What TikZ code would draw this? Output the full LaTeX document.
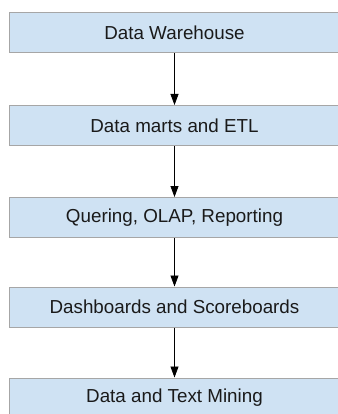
\documentclass[tikz,border=0pt]{standalone}
\usepackage{fontspec}
\setmainfont{Liberation Sans}
\usetikzlibrary{arrows.meta}
\definecolor{boxfill}{HTML}{CFE2F3}
\definecolor{boxline}{HTML}{A6A6A6}
\definecolor{inktext}{HTML}{1A1A1A}
\begin{document}
\begin{tikzpicture}[x=1pt,y=1pt,
  stage/.style={draw=boxline, line width=1pt, fill=boxfill, rectangle,
    minimum width=331pt, minimum height=40pt, inner sep=0pt,
    font=\fontsize{18.8}{22}\selectfont, text=inktext},
  flow/.style={draw=black, line width=0.8pt, -{Triangle[width=8pt,length=11pt]}}]
  \useasboundingbox (0,0) rectangle (337,-414);
  \fill[white] (0,0) rectangle (337,-414);
  \node[stage] (dw)   at (174.5,-33)  {Data Warehouse};
  \node[stage] (dm)   at (174.5,-125.5) {Data marts and ETL};
  \node[stage] (olap) at (174.5,-217.5) {Quering, OLAP, Reporting};
  \node[stage] (dash) at (174.5,-307) {Dashboards and Scoreboards};
  \node[stage] (mine) at (174.5,-398) {Data and Text Mining};
  \draw[flow] (dw.south)   -- (dm.north);
  \draw[flow] (dm.south)   -- (olap.north);
  \draw[flow] (olap.south) -- (dash.north);
  \draw[flow] (dash.south) -- (mine.north);
\end{tikzpicture}
\end{document}
